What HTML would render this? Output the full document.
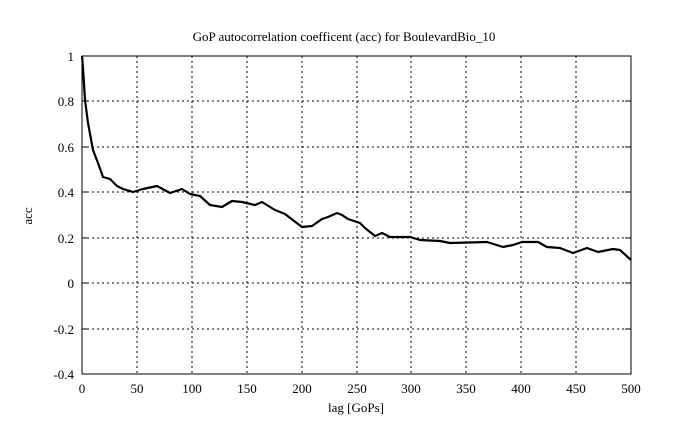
<!DOCTYPE html>
<html><head><meta charset="utf-8"><style>
html,body{margin:0;padding:0;background:#fff;}
svg{display:block;font-family:"Liberation Serif",serif;}
</style></head><body>
<svg width="689" height="433" viewBox="0 0 689 433" xmlns="http://www.w3.org/2000/svg">
<rect width="689" height="433" fill="#fff"/>
<g stroke="#000" stroke-width="1" stroke-dasharray="2,3" fill="none">
<line x1="137" y1="56" x2="137" y2="374"/><line x1="192" y1="56" x2="192" y2="374"/>
<line x1="247" y1="56" x2="247" y2="374"/><line x1="302" y1="56" x2="302" y2="374"/>
<line x1="357" y1="56" x2="357" y2="374"/><line x1="411" y1="56" x2="411" y2="374"/>
<line x1="466" y1="56" x2="466" y2="374"/><line x1="521" y1="56" x2="521" y2="374"/>
<line x1="576" y1="56" x2="576" y2="374"/>
<line x1="82" y1="101" x2="631" y2="101"/><line x1="82" y1="147" x2="631" y2="147"/>
<line x1="82" y1="192" x2="631" y2="192"/><line x1="82" y1="238" x2="631" y2="238"/>
<line x1="82" y1="283" x2="631" y2="283"/><line x1="82" y1="329" x2="631" y2="329"/>
</g>
<g stroke="#000" stroke-width="1">
<line x1="82" y1="101" x2="88" y2="101"/><line x1="82" y1="147" x2="88" y2="147"/><line x1="82" y1="192" x2="88" y2="192"/><line x1="82" y1="238" x2="88" y2="238"/><line x1="82" y1="283" x2="88" y2="283"/><line x1="82" y1="329" x2="88" y2="329"/>
<line x1="625" y1="101" x2="631" y2="101"/><line x1="625" y1="147" x2="631" y2="147"/><line x1="625" y1="192" x2="631" y2="192"/><line x1="625" y1="238" x2="631" y2="238"/><line x1="625" y1="283" x2="631" y2="283"/><line x1="625" y1="329" x2="631" y2="329"/>
</g>
<rect x="82" y="56" width="549" height="318" fill="none" stroke="#000" stroke-width="1"/>
<polyline fill="none" stroke="#000" stroke-width="2.2" stroke-linejoin="round" points="82,56 83,68 85,100 88,123 93,150 98,163 103,177 110,179 117,186 123,189 133,192 143,189 157,186 170,193 182,189 190,194 200,196 210,205 222,207 232,201 242,202 255,205 262,202 275,210 285,214 302,227 312,226 322,219 328,217 337,213 342,215 348,219 360,223 365,228 375,236 382,233 390,237 410,237 420,240 440,241 450,243 487,242 503,247 513,245 522,242 538,242 547,247 560,248 573,253 587,248 598,252 613,249 620,250 631,260"/>
<g font-size="13" fill="#000">
<text x="344" y="41" text-anchor="middle">GoP autocorrelation coefficent (acc) for BoulevardBio_10</text>
<g text-anchor="end">
<text x="74" y="61">1</text><text x="74" y="106">0.8</text><text x="74" y="152">0.6</text>
<text x="74" y="197">0.4</text><text x="74" y="243">0.2</text><text x="74" y="288">0</text>
<text x="74" y="334">-0.2</text><text x="74" y="379">-0.4</text>
</g>
<g text-anchor="middle">
<text x="82" y="393">0</text><text x="137" y="393">50</text><text x="192" y="393">100</text>
<text x="247" y="393">150</text><text x="302" y="393">200</text><text x="357" y="393">250</text>
<text x="411" y="393">300</text><text x="466" y="393">350</text><text x="521" y="393">400</text>
<text x="576" y="393">450</text><text x="631" y="393">500</text>
<text x="356" y="412">lag [GoPs]</text>
</g>
<text transform="translate(32,216) rotate(-90)" text-anchor="middle">acc</text>
</g>
</svg>
</body></html>
